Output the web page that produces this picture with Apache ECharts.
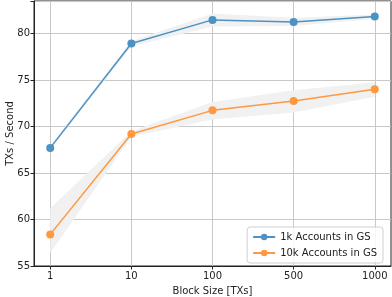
<!DOCTYPE html>
<html><head><meta charset="utf-8">
<script src="https://cdn.jsdelivr.net/npm/echarts@6/dist/echarts.min.js"></script>
<style>html,body{margin:0;padding:0;background:#fff}#c{width:392px;height:297px}</style>
</head><body><div id="c"></div>
<script>
const categories = ['1', '10', '100', '500', '1000'];
const yTicks = [55, 60, 65, 70, 75, 80];
const series1k = [67.7, 78.93, 81.47, 81.25, 81.82];
const band1kLow = [67.5, 78.6, 80.75, 80.8, 81.6];
const band1kHigh = [67.9, 79.2, 82.15, 81.7, 82.05];
const series10k = [58.4, 69.2, 71.74, 72.74, 74.0];
const band10kLow = [56.4, 68.9, 70.75, 71.5, 73.2];
const band10kHigh = [61.2, 69.5, 72.65, 73.9, 74.75];

const blue = '#4c92c3', orange = '#ff983e', bandColor = '#f1f1f1';
const pts = arr => arr.map((v, i) => [i, v]);
const F = 'DejaVu Sans';

function band(lo, hi) {
  return {
    type: 'custom', silent: true, z: 1,
    data: [0],
    encode: { x: [], y: [] },
    renderItem: (params, api) => {
      const upper = hi.map((v, i) => api.coord([i, v]));
      const lower = lo.map((v, i) => api.coord([i, v])).reverse();
      return { type: 'polygon', shape: { points: upper.concat(lower) }, style: { fill: bandColor } };
    }
  };
}

const chart = echarts.init(document.getElementById('c'), null, { renderer: 'canvas' });
chart.setOption({
  animation: false,
  grid: { left: 34, right: 1, top: 1, bottom: 31, show: true, borderColor: '#222', borderWidth: 1, containLabel: false, outerBoundsMode: 'none' },
  xAxis: {
    type: 'value', min: -0.2, max: 4.2,
    name: 'Block Size [TXs]', nameLocation: 'middle', nameGap: 20, nameMoveOverlap: false,
    nameTextStyle: { fontFamily: F, fontSize: 10, color: '#222' },
    axisLine: { show: true, onZero: false, lineStyle: { color: '#222', width: 1 } },
    axisTick: { show: true, customValues: [0, 1, 2, 3, 4], length: 3.5, lineStyle: { color: '#222' } },
    axisLabel: { customValues: [0, 1, 2, 3, 4], formatter: v => categories[Math.round(v)], fontFamily: F, fontSize: 10, color: '#222', margin: 5 },
    splitLine: { show: true, lineStyle: { color: '#c8c8c8', width: 1 } }
  },
  yAxis: {
    type: 'value', min: 55, max: 83.5, interval: 5,
    name: 'TXs / Second', nameLocation: 'middle', nameGap: 19, nameRotate: 90, nameMoveOverlap: false,
    nameTextStyle: { fontFamily: F, fontSize: 10, color: '#222' },
    axisLine: { show: true, onZero: false, lineStyle: { color: '#222', width: 1 } },
    axisTick: { show: true, length: 3.5, lineStyle: { color: '#222' } },
    axisLabel: { fontFamily: F, fontSize: 10, color: '#222', margin: 4, formatter: v => yTicks.includes(v) ? String(v) : '' },
    splitLine: { show: true, lineStyle: { color: '#c8c8c8', width: 1 } }
  },
  legend: {
    right: 9, bottom: 34, orient: 'vertical',
    data: ['1k Accounts in GS', '10k Accounts in GS'],
    itemWidth: 22, itemHeight: 8, itemGap: 6,
    padding: [5, 6, 5, 5],
    borderColor: '#d0d0d0', borderWidth: 1, borderRadius: 3,
    backgroundColor: 'rgba(255,255,255,0.85)',
    textStyle: { fontFamily: F, fontSize: 10, color: '#222' }
  },
  series: [
    band(band1kLow, band1kHigh),
    band(band10kLow, band10kHigh),
    { name: '1k Accounts in GS', type: 'line', data: pts(series1k), color: blue, symbol: 'circle', symbolSize: 8, lineStyle: { width: 1.5, color: blue }, itemStyle: { color: blue }, z: 5 },
    { name: '10k Accounts in GS', type: 'line', data: pts(series10k), color: orange, symbol: 'circle', symbolSize: 8, lineStyle: { width: 1.5, color: orange }, itemStyle: { color: orange }, z: 5 }
  ]
});
</script></body></html>
